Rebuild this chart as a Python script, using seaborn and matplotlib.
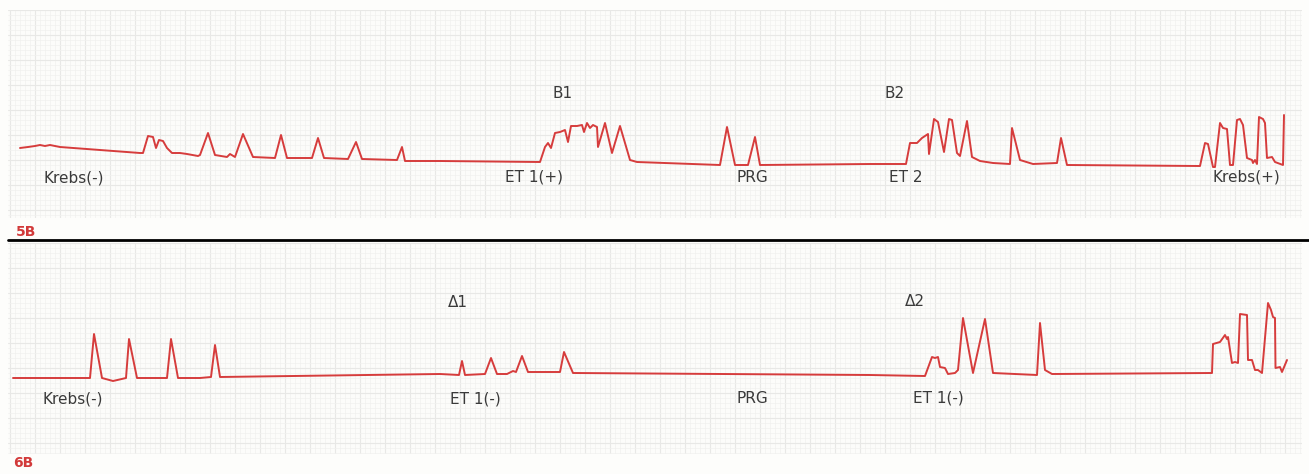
import numpy as np
import pandas as pd
import matplotlib
matplotlib.use("Agg")
import matplotlib.pyplot as plt
from matplotlib.lines import Line2D
import seaborn as sns

# ---------------- data (time in px-units, level in px-units, y grows downward) ----------------
top_t = [20, 28, 35, 40, 45, 50, 60, 100, 140, 143, 148, 153, 156, 159, 163, 167, 172, 180, 187, 198, 200,
         208, 215, 227, 230, 235, 243, 253, 275, 281, 287, 312, 318, 324, 348, 356, 362, 397, 402, 405, 440,
         540, 545, 548, 551, 555, 560, 565, 568, 571, 577, 582, 584, 587, 590, 593, 597, 598, 605, 612, 620,
         630, 637, 720, 727, 735, 748, 755, 760, 870,
         906, 910, 917, 922, 928, 929, 934, 938, 944, 949, 952, 957, 960, 967, 972, 980, 993, 1010, 1012,
         1020, 1033, 1057, 1061, 1067, 1200, 1205, 1208, 1213, 1215, 1220, 1223, 1227, 1230, 1233, 1237,
         1240, 1243, 1247, 1252, 1253, 1255, 1257, 1259, 1263, 1265, 1267, 1272, 1275, 1283, 1284]
top_v = [148, 147, 146, 145, 146, 145, 147, 150, 153, 153, 136, 137, 148, 140, 141, 148, 153, 153, 154, 156, 155,
         133, 155, 157, 154, 157, 134, 157, 158, 135, 158, 158, 138, 158, 159, 142, 159, 160, 147, 161, 161,
         162, 147, 143, 148, 133, 132, 130, 142, 126, 126, 125, 132, 123, 128, 125, 127, 147, 123, 153, 126,
         160, 162, 165, 127, 165, 165, 137, 165, 164,
         164, 143, 143, 138, 134, 154, 119, 122, 152, 119, 120, 153, 156, 121, 157, 161, 163, 164, 128,
         160, 164, 163, 138, 165, 166, 143, 144, 167, 167, 123, 128, 129, 165, 165, 120,
         119, 125, 158, 160, 163, 160, 164, 117, 119, 123, 158, 157, 162, 165, 115]

bot_t = [13, 90, 94, 102, 113, 126, 129, 137, 167, 171, 178, 200, 211, 215, 220, 440,
         459, 462, 465, 485, 491, 497, 507, 513, 516, 522, 528, 560, 564, 573, 870,
         925, 932, 935, 938, 940, 945, 948, 955, 958, 963, 973, 985, 993, 1037, 1040, 1045, 1052,
         1212, 1213, 1220, 1225, 1227, 1228, 1232, 1235, 1238, 1240, 1247, 1248, 1252, 1255, 1258,
         1262, 1268, 1271, 1273, 1275, 1275.5, 1280, 1282, 1287]
bot_v = [378, 378, 334, 378, 381, 378, 339, 378, 378, 339, 378, 378, 377, 345, 377, 374,
         375, 361, 375, 374, 358, 374, 374, 371, 372, 356, 372, 372, 352, 373, 375,
         376, 357, 358, 357, 367, 368, 374, 373, 370, 318, 373, 319, 373, 375, 323, 370, 374,
         373, 344, 342, 335, 339, 337, 363, 362, 363, 314, 315, 360, 360, 370, 370,
         373, 303, 310, 317, 318, 368, 367, 372, 360]

top_labels = ["Krebs(-)", "B1", "ET 1(+)", "PRG", "B2", "ET 2", "Krebs(+)"]
top_label_t = [74, 563, 534, 752, 895, 906, 1246]
top_label_v = [178, 93, 177, 177, 93, 177, 177]

bot_labels = ["Krebs(-)", "Δ1", "ET 1(-)", "PRG", "Δ2", "ET 1(-)"]
bot_label_t = [73, 458, 475, 752, 915, 938]
bot_label_v = [399, 303, 399, 399, 302, 398]

panel_names = ["5B", "6B"]

# ---------------- figure ----------------
sns.set_theme(style="white")
plt.rcParams["font.family"] = ["DejaVu Sans"]

W, H = 1309, 474
fig = plt.figure(figsize=(W / 100, H / 100), dpi=100)
fig.patch.set_facecolor("#fdfdfb")

TRACE = "#d63c3c"
TEXT = "#3a3a3a"


def make_axes(y0, y1):
    ax = fig.add_axes([8 / W, 1 - y1 / H, 1294 / W, (y1 - y0) / H])
    ax.set_xlim(8, 1302)
    ax.set_ylim(y1, y0)
    ax.set_facecolor("#fcfcfa")
    ax.set_xticks(np.arange(10, 1302, 25))
    ax.set_xticks(np.arange(10, 1302, 5), minor=True)
    ax.set_yticks(np.arange(y0, y1, 25))
    ax.set_yticks(np.arange(y0, y1, 5), minor=True)
    ax.grid(which="major", color="#e8e8e6", lw=0.8)
    ax.grid(which="minor", color="#f1f1ef", lw=0.5)
    ax.tick_params(which="both", length=0, labelbottom=False, labelleft=False)
    for s in ax.spines.values():
        s.set_visible(False)
    return ax


ax1 = make_axes(10, 218)
df1 = pd.DataFrame({"t": top_t, "v": top_v})
sns.lineplot(data=df1, x="t", y="v", sort=False, estimator=None, color=TRACE, lw=1.4, ax=ax1)
ax1.set_xlabel(""); ax1.set_ylabel("")
for s, x, y in zip(top_labels, top_label_t, top_label_v):
    ax1.text(x, y, s, ha="center", va="center", fontsize=11, color=TEXT)

ax2 = make_axes(243, 454)
df2 = pd.DataFrame({"t": bot_t, "v": bot_v})
sns.lineplot(data=df2, x="t", y="v", sort=False, estimator=None, color=TRACE, lw=1.4, ax=ax2)
ax2.set_xlabel(""); ax2.set_ylabel("")
for s, x, y in zip(bot_labels, bot_label_t, bot_label_v):
    ax2.text(x, y, s, ha="center", va="center", fontsize=11, color=TEXT)

# separator line and panel tags
fig.add_artist(Line2D([8 / W, 1.0], [1 - 240 / H, 1 - 240 / H], color="black", lw=2.0,
                      transform=fig.transFigure))
fig.text(16 / W, 1 - 232 / H, panel_names[0], color="#d23a3a", fontsize=10, fontweight="bold",
         ha="left", va="center")
fig.text(13 / W, 1 - 463 / H, panel_names[1], color="#d23a3a", fontsize=10, fontweight="bold",
         ha="left", va="center")

fig.savefig("out.png", dpi=100, facecolor=fig.get_facecolor())
